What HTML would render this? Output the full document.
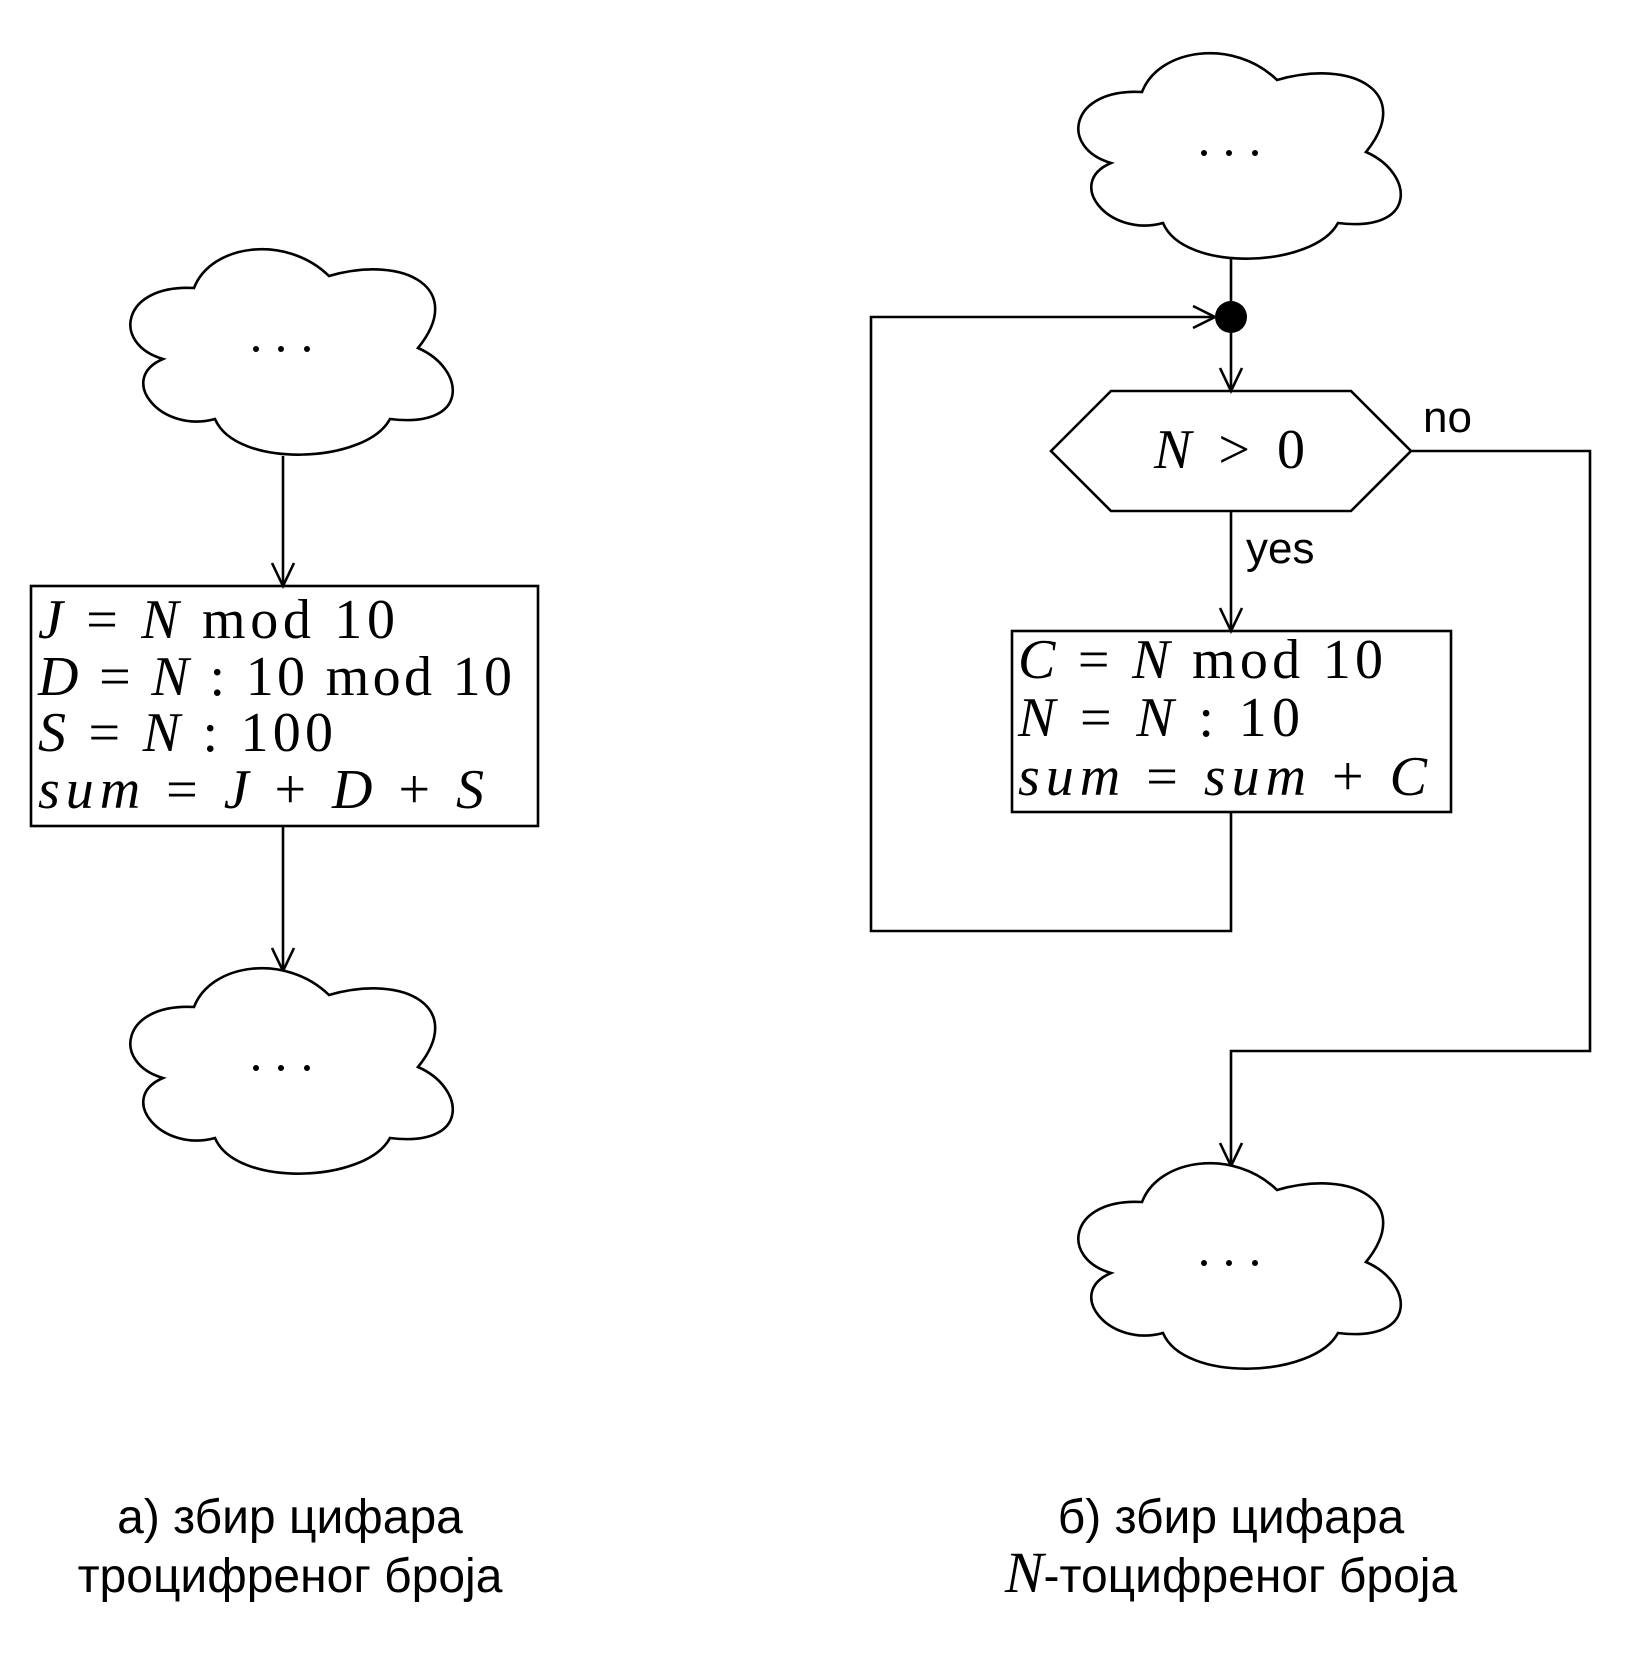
<!DOCTYPE html>
<html><head><meta charset="utf-8"><style>
html,body{margin:0;padding:0;background:#fff;}
svg{display:block;}
.m{font-family:"Liberation Serif",serif;font-size:56px;}
.i{font-style:italic;}
.s{font-family:"Liberation Sans","DejaVu Sans",sans-serif;}
</style></head><body>
<svg width="1647" height="1653" viewBox="0 0 1647 1653" xmlns="http://www.w3.org/2000/svg">
<defs>
<path id="cl" d="M68,39 C85,-5 160,-15 203,27 C280,5 340,40 292,99 C340,120 345,180 264,170 C240,215 110,220 89,170 C35,185 -10,130 37,110 C-15,95 -5,35 68,39 Z" fill="#fff" stroke="#000" stroke-width="2.6"/>
<g id="dots"><circle cx="130" cy="100" r="3"/><circle cx="155" cy="100" r="3"/><circle cx="181" cy="100" r="3"/></g>
</defs>
<g fill="none" stroke="#000" stroke-width="2.6">
<line x1="283" y1="456" x2="283" y2="586"/>
<polyline points="272,563 283,586 294,563"/>
<rect x="31" y="586" width="507" height="240"/>
<line x1="283" y1="826" x2="283" y2="971"/>
<polyline points="272,948 283,971 294,948"/>
<line x1="1231" y1="259" x2="1231" y2="391"/>
<polyline points="1220,368 1231,391 1242,368"/>
<polygon points="1051,451 1111,391 1351,391 1411,451 1351,511 1111,511"/>
<line x1="1231" y1="511" x2="1231" y2="631"/>
<polyline points="1220,608 1231,631 1242,608"/>
<rect x="1012" y="631" width="439" height="181"/>
<polyline points="1231,812 1231,931 871,931 871,317 1215,317"/>
<polyline points="1193,306 1215,317 1193,328"/>
<polyline points="1411,451 1590,451 1590,1051 1231,1051 1231,1166"/>
<polyline points="1220,1143 1231,1166 1242,1143"/>
</g>
<circle cx="1231" cy="317" r="16" fill="#000"/>
<use href="#cl" x="126" y="249"/><use href="#dots" x="126" y="249"/>
<use href="#cl" x="126" y="968"/><use href="#dots" x="126" y="968"/>
<use href="#cl" x="1074" y="53"/><use href="#dots" x="1074" y="53"/>
<use href="#cl" x="1074" y="1163"/><use href="#dots" x="1074" y="1163"/>

<g class="m">
<text x="38" y="638" textLength="357" lengthAdjust="spacing"><tspan class="i">J</tspan> = <tspan class="i">N</tspan> mod 10</text>
<text x="38" y="695" textLength="474" lengthAdjust="spacing"><tspan class="i">D</tspan> = <tspan class="i">N</tspan> : 10 mod 10</text>
<text x="38" y="751" textLength="295" lengthAdjust="spacing"><tspan class="i">S</tspan> = <tspan class="i">N</tspan> : 100</text>
<text x="38" y="808" textLength="446" lengthAdjust="spacing"><tspan class="i">sum</tspan> = <tspan class="i">J</tspan> + <tspan class="i">D</tspan> + <tspan class="i">S</tspan></text>
<text x="1154" y="468" textLength="151" lengthAdjust="spacing"><tspan class="i">N</tspan> &gt; 0</text>
<text x="1018" y="678" textLength="365" lengthAdjust="spacing"><tspan class="i">C</tspan> = <tspan class="i">N</tspan> mod 10</text>
<text x="1018" y="736" textLength="282" lengthAdjust="spacing"><tspan class="i">N</tspan> = <tspan class="i">N</tspan> : 10</text>
<text x="1018" y="795" textLength="409" lengthAdjust="spacing"><tspan class="i">sum</tspan> = <tspan class="i">sum</tspan> + <tspan class="i">C</tspan></text>
</g>
<text class="s" x="1423" y="432" font-size="44">no</text>
<text class="s" x="1246" y="563" font-size="44">yes</text>
<text class="s" x="290" y="1533" font-size="48" text-anchor="middle">а) збир цифара</text>
<text class="s" x="290" y="1592" font-size="48" text-anchor="middle">троцифреног броја</text>
<text class="s" x="1231" y="1533" font-size="48" text-anchor="middle">б) збир цифара</text>
<text class="s" x="1231" y="1592" font-size="48" text-anchor="middle"><tspan font-family="Liberation Serif" font-style="italic" font-size="58">N</tspan>-тоцифреног броја</text>
</svg>
</body></html>
